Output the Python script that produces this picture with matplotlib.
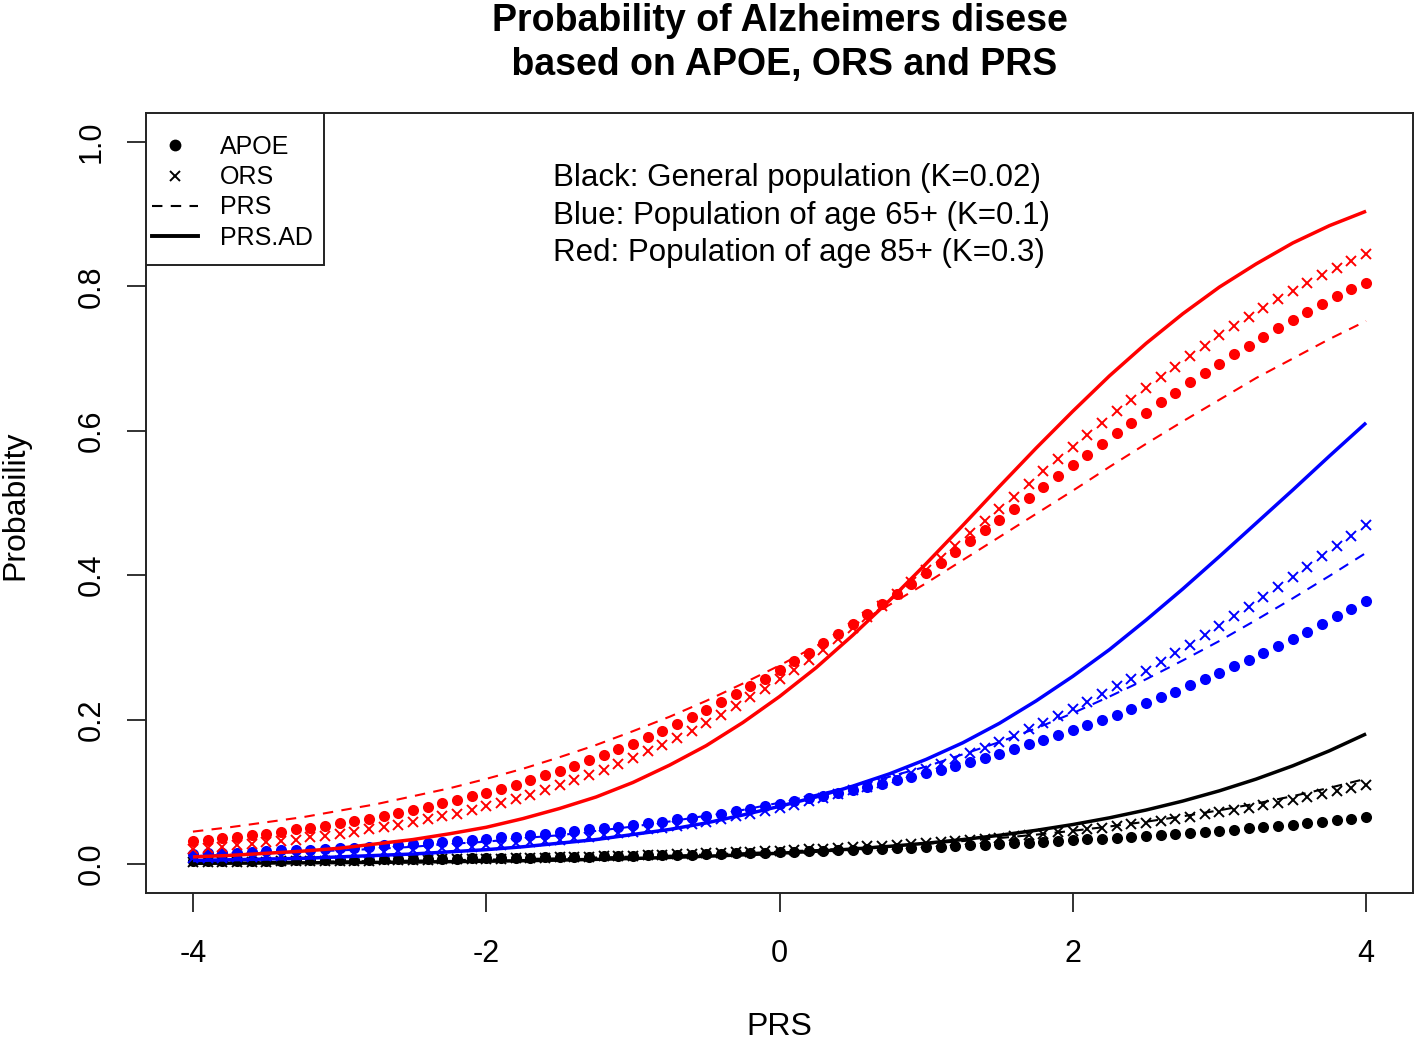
import numpy as np
import matplotlib
matplotlib.use("Agg")
import matplotlib.pyplot as plt
from matplotlib.lines import Line2D
from matplotlib.patches import Rectangle

plt.rcParams['font.family'] = ['Liberation Sans', 'DejaVu Sans']

# PRS grid for point series (step 0.1) and line series (step 0.25)
prs_pts = np.round(np.arange(-4, 4.0001, 0.1), 1)
prs_line = np.linspace(-4, 4, 33)

# ---- Red: population of age 85+ (K=0.3)
red_apoe = [0.032, 0.034, 0.036, 0.038, 0.040, 0.042, 0.045, 0.048, 0.050, 0.053,
            0.057, 0.060, 0.063, 0.067, 0.071, 0.075, 0.079, 0.084, 0.089, 0.094,
            0.099, 0.104, 0.110, 0.116, 0.123, 0.129, 0.136, 0.144, 0.151, 0.159,
            0.167, 0.176, 0.185, 0.194, 0.204, 0.214, 0.224, 0.235, 0.246, 0.257,
            0.269, 0.281, 0.293, 0.306, 0.319, 0.332, 0.346, 0.360, 0.374, 0.388,
            0.403, 0.417, 0.432, 0.447, 0.462, 0.477, 0.492, 0.507, 0.522, 0.537,
            0.552, 0.567, 0.582, 0.597, 0.611, 0.625, 0.640, 0.653, 0.667, 0.680,
            0.693, 0.706, 0.718, 0.730, 0.742, 0.754, 0.765, 0.775, 0.786, 0.796,
            0.805]
red_ors = [0.021, 0.023, 0.024, 0.026, 0.028, 0.030, 0.032, 0.034, 0.037, 0.039,
           0.042, 0.045, 0.048, 0.051, 0.054, 0.058, 0.062, 0.066, 0.070, 0.075,
           0.080, 0.085, 0.090, 0.096, 0.102, 0.109, 0.116, 0.123, 0.131, 0.139,
           0.147, 0.156, 0.165, 0.175, 0.185, 0.196, 0.207, 0.219, 0.231, 0.243,
           0.256, 0.269, 0.283, 0.297, 0.312, 0.327, 0.342, 0.358, 0.374, 0.390,
           0.407, 0.424, 0.441, 0.458, 0.475, 0.492, 0.509, 0.527, 0.544, 0.561,
           0.578, 0.594, 0.611, 0.627, 0.643, 0.659, 0.674, 0.689, 0.704, 0.718,
           0.732, 0.745, 0.758, 0.770, 0.782, 0.794, 0.805, 0.816, 0.826, 0.835,
           0.845]
red_prs = [0.045, 0.051, 0.058, 0.065, 0.074, 0.083, 0.094, 0.105, 0.118, 0.132,
           0.148, 0.165, 0.184, 0.204, 0.226, 0.250, 0.275, 0.302, 0.330, 0.359,
           0.389, 0.421, 0.453, 0.485, 0.517, 0.550, 0.582, 0.613, 0.643, 0.673,
           0.700, 0.727, 0.752]
red_prs_ad = [0.010, 0.012, 0.015, 0.018, 0.022, 0.028, 0.034, 0.042, 0.051, 0.063,
              0.077, 0.093, 0.113, 0.137, 0.164, 0.196, 0.232, 0.272, 0.317, 0.365,
              0.416, 0.469, 0.523, 0.576, 0.627, 0.676, 0.721, 0.762, 0.799, 0.831,
              0.860, 0.884, 0.904]

# ---- Blue: population of age 65+ (K=0.1)
blue_apoe = [0.014, 0.015, 0.016, 0.016, 0.017, 0.018, 0.019, 0.020, 0.020, 0.021,
             0.022, 0.023, 0.024, 0.026, 0.027, 0.028, 0.029, 0.031, 0.032, 0.033,
             0.035, 0.037, 0.038, 0.040, 0.042, 0.044, 0.046, 0.048, 0.050, 0.052,
             0.054, 0.057, 0.059, 0.062, 0.064, 0.067, 0.070, 0.073, 0.076, 0.080,
             0.083, 0.087, 0.091, 0.094, 0.098, 0.103, 0.107, 0.111, 0.116, 0.121,
             0.126, 0.131, 0.136, 0.142, 0.147, 0.153, 0.159, 0.166, 0.172, 0.179,
             0.186, 0.193, 0.200, 0.207, 0.215, 0.223, 0.231, 0.239, 0.248, 0.256,
             0.265, 0.274, 0.283, 0.293, 0.302, 0.312, 0.322, 0.332, 0.343, 0.353,
             0.364]
blue_ors = [0.008, 0.009, 0.009, 0.010, 0.010, 0.011, 0.011, 0.012, 0.013, 0.014,
            0.014, 0.015, 0.016, 0.017, 0.018, 0.019, 0.020, 0.022, 0.023, 0.024,
            0.026, 0.027, 0.029, 0.030, 0.032, 0.034, 0.036, 0.038, 0.040, 0.043,
            0.045, 0.048, 0.050, 0.053, 0.056, 0.059, 0.063, 0.066, 0.070, 0.074,
            0.078, 0.082, 0.087, 0.092, 0.097, 0.102, 0.107, 0.113, 0.119, 0.126,
            0.132, 0.139, 0.146, 0.154, 0.161, 0.169, 0.178, 0.187, 0.196, 0.205,
            0.215, 0.225, 0.235, 0.246, 0.257, 0.268, 0.280, 0.292, 0.304, 0.317,
            0.330, 0.343, 0.356, 0.370, 0.384, 0.398, 0.412, 0.426, 0.440, 0.455,
            0.470]
blue_prs = [0.011, 0.013, 0.015, 0.017, 0.019, 0.021, 0.024, 0.028, 0.031, 0.036,
            0.040, 0.046, 0.052, 0.059, 0.067, 0.075, 0.085, 0.096, 0.108, 0.121,
            0.135, 0.152, 0.169, 0.188, 0.209, 0.232, 0.256, 0.282, 0.309, 0.338,
            0.368, 0.399, 0.431]
blue_prs_ad = [0.005, 0.006, 0.007, 0.008, 0.010, 0.012, 0.014, 0.017, 0.020, 0.024,
               0.029, 0.034, 0.041, 0.048, 0.057, 0.068, 0.080, 0.093, 0.108, 0.125,
               0.145, 0.168, 0.195, 0.226, 0.260, 0.297, 0.338, 0.381, 0.426, 0.472,
               0.518, 0.565, 0.611]

# ---- Black: general population (K=0.02)
black_apoe = [0.0040, 0.0042, 0.0043, 0.0045, 0.0046, 0.0048, 0.0050, 0.0052, 0.0053, 0.0055,
              0.0057, 0.0059, 0.0062, 0.0064, 0.0066, 0.0068, 0.0071, 0.0073, 0.0076, 0.0079,
              0.0082, 0.0085, 0.0088, 0.0091, 0.0094, 0.0097, 0.0101, 0.0104, 0.0108, 0.0112,
              0.0116, 0.0120, 0.0124, 0.0129, 0.0133, 0.0138, 0.0143, 0.0148, 0.0154, 0.0159,
              0.0165, 0.0170, 0.0177, 0.0183, 0.0189, 0.0196, 0.0203, 0.0210, 0.0218, 0.0225,
              0.0233, 0.0241, 0.0250, 0.0259, 0.0268, 0.0277, 0.0287, 0.0297, 0.0307, 0.0318,
              0.0329, 0.0341, 0.0353, 0.0365, 0.0378, 0.0391, 0.0404, 0.0418, 0.0433, 0.0448,
              0.0463, 0.0479, 0.0496, 0.0513, 0.0530, 0.0548, 0.0567, 0.0586, 0.0606, 0.0626,
              0.0648]
black_ors = [0.0029, 0.0030, 0.0032, 0.0033, 0.0035, 0.0036, 0.0038, 0.0040, 0.0042, 0.0044,
             0.0046, 0.0048, 0.0050, 0.0053, 0.0055, 0.0058, 0.0061, 0.0064, 0.0067, 0.0070,
             0.0073, 0.0077, 0.0080, 0.0084, 0.0088, 0.0092, 0.0097, 0.0101, 0.0106, 0.0111,
             0.0117, 0.0122, 0.0128, 0.0134, 0.0140, 0.0147, 0.0154, 0.0161, 0.0169, 0.0177,
             0.0185, 0.0194, 0.0203, 0.0213, 0.0223, 0.0233, 0.0244, 0.0256, 0.0267, 0.0280,
             0.0293, 0.0307, 0.0321, 0.0336, 0.0352, 0.0368, 0.0385, 0.0403, 0.0421, 0.0441,
             0.0461, 0.0482, 0.0504, 0.0527, 0.0551, 0.0576, 0.0602, 0.0629, 0.0657, 0.0687,
             0.0718, 0.0749, 0.0783, 0.0817, 0.0853, 0.0891, 0.0930, 0.0970, 0.1012, 0.1055,
             0.1101]
black_prs = [0.0023, 0.0026, 0.0029, 0.0033, 0.0038, 0.0043, 0.0048, 0.0055, 0.0062, 0.0071,
             0.0080, 0.0091, 0.0104, 0.0117, 0.0133, 0.0151, 0.0171, 0.0194, 0.0220, 0.0249,
             0.0282, 0.0319, 0.0361, 0.0408, 0.0461, 0.0521, 0.0587, 0.0662, 0.0745, 0.0838,
             0.0941, 0.1056, 0.1182]
black_prs_ad = [0.0011, 0.0013, 0.0015, 0.0018, 0.0021, 0.0024, 0.0029, 0.0034, 0.0040, 0.0047,
                0.0056, 0.0066, 0.0078, 0.0092, 0.0109, 0.0128, 0.0151, 0.0178, 0.0209, 0.0246,
                0.0289, 0.0340, 0.0399, 0.0468, 0.0548, 0.0641, 0.0749, 0.0873, 0.1015, 0.1177,
                0.1361, 0.1569, 0.1803]

groups = [
    ("black", black_apoe, black_ors, black_prs, black_prs_ad),
    ("blue", blue_apoe, blue_ors, blue_prs, blue_prs_ad),
    ("red", red_apoe, red_ors, red_prs, red_prs_ad),
]
color_map = {"black": "#000000", "blue": "#0000FF", "red": "#FF0000"}

legend_labels = ["APOE", "ORS", "PRS", "PRS.AD"]
xticks = [-4, -2, 0, 2, 4]
yticks = [0.0, 0.2, 0.4, 0.6, 0.8, 1.0]
annotation_lines = ["Black: General population (K=0.02)",
                    "Blue: Population of age 65+ (K=0.1)",
                    "Red: Population of age 85+ (K=0.3)"]

W, H = 1418, 1040
fig = plt.figure(figsize=(W / 100, H / 100), dpi=100)
ax = fig.add_axes([146 / W, 1 - 893 / H, (1413 - 146) / W, (893 - 113) / H])

for name, apoe, ors, prs, prs_ad in groups:
    c = color_map[name]
    ax.plot(prs_line, prs_ad, color=c, lw=2.5, solid_capstyle='butt', solid_joinstyle='round')
    ax.plot(prs_line, prs, color=c, lw=1.5, linestyle=(0, (5, 4)))
    ax.plot(prs_pts, apoe, linestyle='none', marker='o', color=c, markersize=8,
            markeredgewidth=0)
    ax.plot(prs_pts, ors, linestyle='none', marker='x', color=c, markersize=6.8,
            markeredgewidth=1.4)

ax.set_xlim(-4.32, 4.32)
ax.set_ylim(-0.04, 1.04)
ax.set_xticks(xticks)
ax.set_xticklabels([f"{t:d}" for t in xticks])
ax.set_yticks(yticks)
ax.set_yticklabels([f"{t:.1f}" for t in yticks], rotation=90, va='center')
ax.tick_params(axis='both', labelsize=22, length=14, width=1.3, color='#222222')
ax.tick_params(axis='x', pad=19)
ax.tick_params(axis='y', pad=14)
for s in ax.spines.values():
    s.set_linewidth(1.4)
    s.set_color('#222222')

ax.set_xlabel("PRS", fontsize=23)
ax.xaxis.set_label_coords(0.5, (893 - 1027) / 780)
ax.xaxis.label.set_va('center')
ax.set_ylabel("Probability", fontsize=23)
ax.yaxis.set_label_coords((15 - 146) / 1267, (893 - 505) / 780)
ax.yaxis.label.set_va('center')

fig.text(779.5 / W, 1 - 3 / H, "Probability of Alzheimers disese\n based on APOE, ORS and PRS",
         ha='center', va='top', fontsize=27, fontweight='bold', linespacing=1.28)

ypos = [0.950, 0.898, 0.846]
for txt, yy in zip(annotation_lines, ypos):
    ax.text(-1.545, yy, txt, fontsize=22.5, ha='left', va='center')

# legend frame and entries
ax.add_patch(Rectangle((0, (893 - 265) / 780), (324 - 146) / 1267, (265 - 113) / 780,
                       transform=ax.transAxes, fill=True, facecolor='white',
                       edgecolor='#222222', lw=1.4, zorder=5))
handles = [
    Line2D([], [], linestyle='none', marker='o', color='black', markersize=8.5, markeredgewidth=0),
    Line2D([], [], linestyle='none', marker='x', color='black', markersize=7, markeredgewidth=1.4),
    Line2D([], [], color='black', lw=1.5, linestyle=(0, (5, 4))),
    Line2D([], [], color='black', lw=2.8),
]
leg = ax.legend(handles, legend_labels, loc='upper left',
                bbox_to_anchor=((152 - 146) / 1267, (893 - 135) / 780),
                borderaxespad=0, borderpad=0, fontsize=18, frameon=False,
                handlelength=1.84, handletextpad=0.88, labelspacing=0.25)
leg.set_zorder(6)

fig.savefig("out.png", dpi=100)
